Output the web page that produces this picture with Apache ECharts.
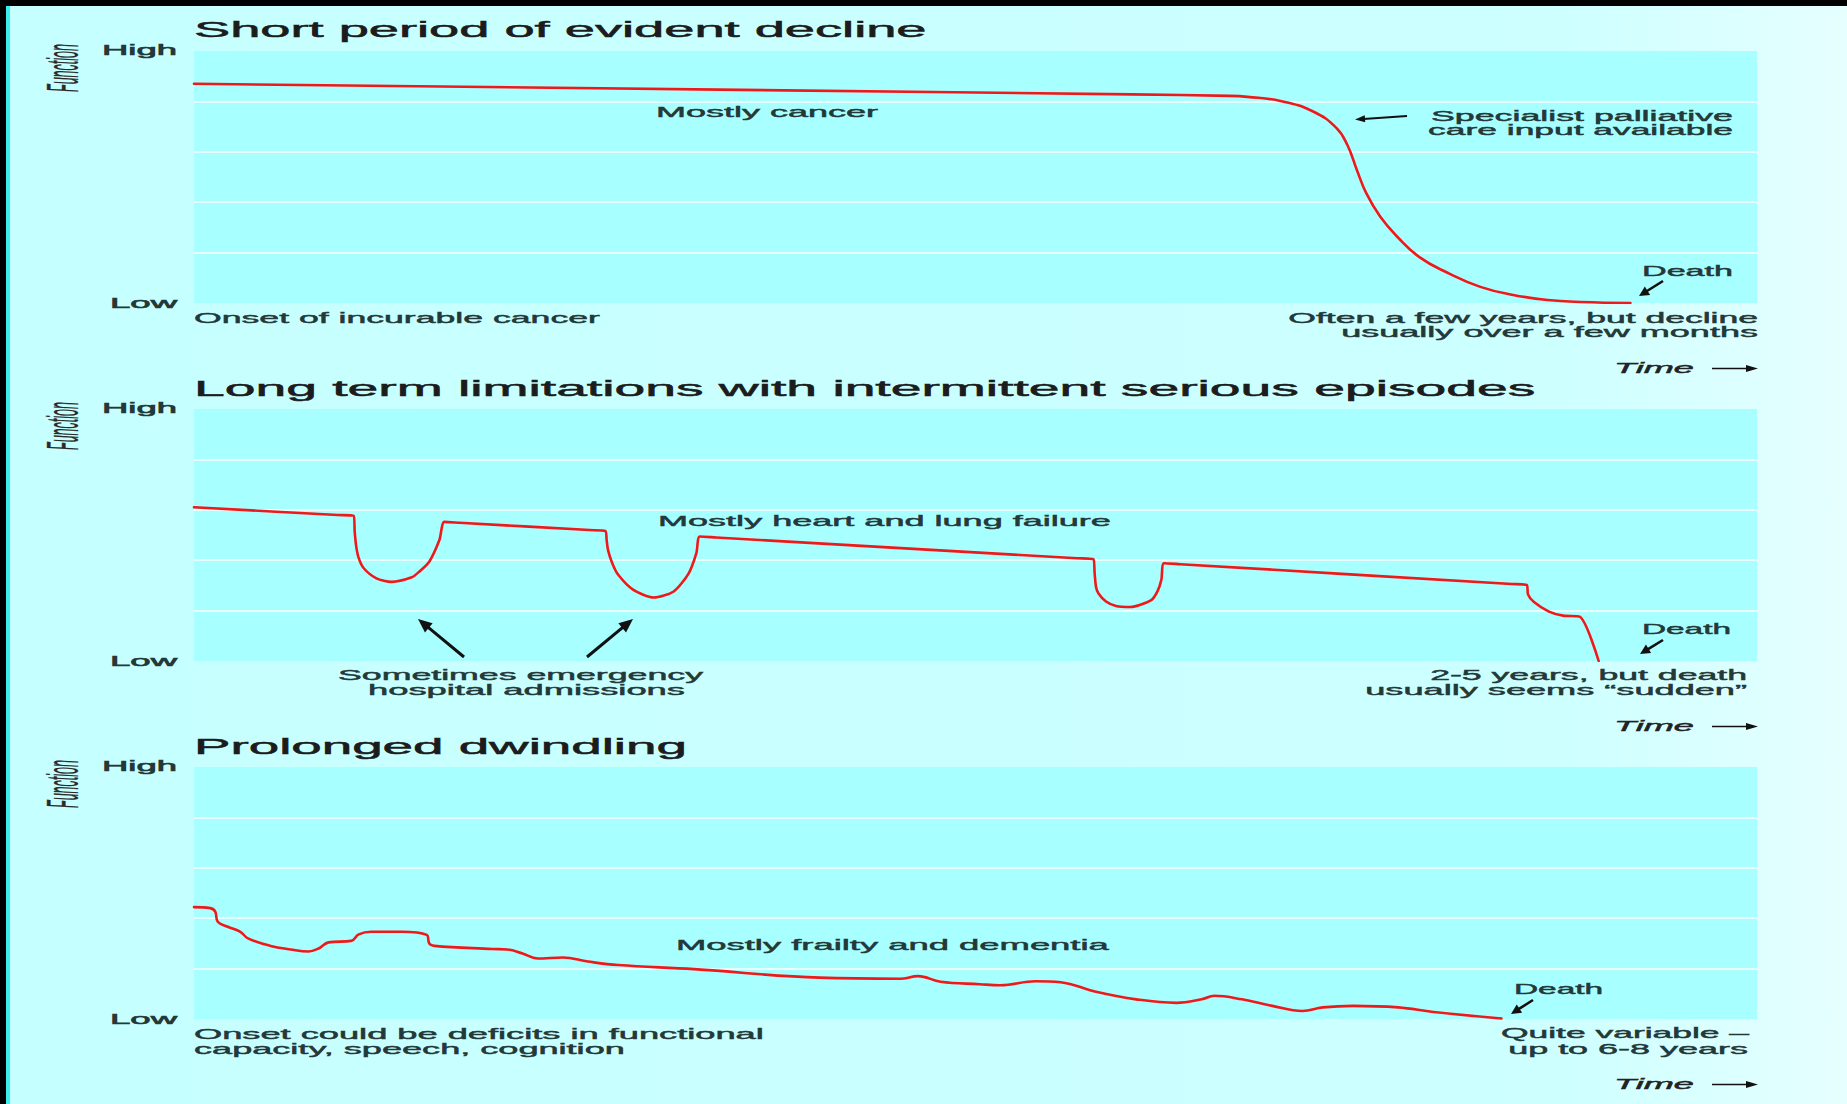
<!DOCTYPE html>
<html><head><meta charset="utf-8">
<script src="https://cdn.jsdelivr.net/npm/echarts@6/dist/echarts.min.js"></script>
<style>
html,body{margin:0;padding:0;width:1847px;height:1104px;overflow:hidden;background:#000;}
#bg{position:absolute;left:6px;top:6px;right:0;bottom:0;background:linear-gradient(to right,#c6ffff 0%,#cdffff 84%,#e6ffff 100%);border-left:4px solid #3aeeee;}
#chart{position:absolute;left:0;top:0;width:1847px;height:1104px;}
</style></head><body><div id="bg"></div><div id="chart"></div>
<script>
// ---------- data ----------
const yTickLabels = ['Low', 'High'];
const panelTitles = [
  'Short period of evident decline',
  'Long term limitations with intermittent serious episodes',
  'Prolonged dwindling'
];
const cancerX = [0, 60.0, 66.3, 67.4, 69.5, 71.6, 73.1, 73.8, 74.4, 75.0, 75.9, 77.0, 78.4, 80.2, 82.3, 84.4, 86.6, 88.7, 91.9];
const cancerY = [4.35, 4.14, 4.11, 4.09, 4.01, 3.80, 3.47, 3.13, 2.64, 2.18, 1.71, 1.31, 0.91, 0.60, 0.32, 0.16, 0.06, 0.02, 0.0];

const organX = [0, 9.2, 10.22, 10.28, 10.38, 10.54, 10.86, 11.67, 12.64, 13.93, 14.40, 15.05, 15.70, 16.02,
  17.0, 25.3, 26.32, 26.40, 26.49, 26.76, 27.14, 28.11, 29.40, 30.69, 31.65, 32.14, 32.36,
  33.4, 56.5, 57.54, 57.62, 57.71, 57.87, 58.35, 58.99, 59.90, 61.25, 61.64, 61.89, 62.06,
  63.1, 84.3, 85.27, 85.35, 85.73, 86.69, 87.6, 88.65, 89.87];
const organY = [3.05, 2.897, 2.88, 2.57, 2.27, 2.04, 1.84, 1.64, 1.57, 1.66, 1.77, 1.97, 2.40, 2.76,
  2.743, 2.598, 2.58, 2.40, 2.20, 1.94, 1.71, 1.41, 1.26, 1.38, 1.74, 2.14, 2.47,
  2.451, 2.039, 2.02, 1.75, 1.47, 1.34, 1.18, 1.09, 1.07, 1.21, 1.38, 1.61, 1.94,
  1.921, 1.528, 1.51, 1.32, 1.17, 0.98, 0.90, 0.88, 0.0];

const frailX = [0, 1.04, 1.36, 1.52, 2.16, 2.97, 3.45, 4.90, 6.19, 7.32, 7.97, 8.61, 10.06, 10.54, 11.35, 13.28,
  14.89, 15.05, 15.37, 19.09, 20.05, 21.02, 21.98, 23.60, 25.21, 27.14, 31.98, 40.03, 45.19, 46.32, 47.77,
  50.28, 51.58, 53.84, 55.45, 57.71, 60.28, 62.86, 64.47, 65.28, 67.05, 68.99, 70.92, 72.21, 74.15, 77.04, 79.30, 83.65];
const frailY = [2.22, 2.20, 2.13, 1.93, 1.83, 1.73, 1.60, 1.45, 1.38, 1.34, 1.40, 1.52, 1.55, 1.68, 1.73, 1.73,
  1.67, 1.50, 1.45, 1.39, 1.38, 1.30, 1.20, 1.22, 1.14, 1.07, 0.99, 0.82, 0.80, 0.85, 0.74,
  0.69, 0.67, 0.75, 0.73, 0.54, 0.39, 0.32, 0.39, 0.46, 0.39, 0.26, 0.16, 0.23, 0.26, 0.23, 0.14, 0.01];

// ---------- layout ----------
const FONT = "'Liberation Sans', Arial, sans-serif";
const PLOT_LEFT = 194, PLOT_W = 1563, PLOT_H = 252, PANEL_STEP = 358, PLOT_TOP0 = 51;
const LINE_COLOR = '#f01818';
const TEXT_COLOR = '#233838';
const SMOOTH = [0.45, 0.25, 0.4];

const chart = echarts.init(document.getElementById('chart'), null, {renderer: 'svg'});

const zip = (xs, ys) => xs.map((x, i) => [x, ys[i]]);
const seriesData = [zip(cancerX, cancerY), zip(organX, organY), zip(frailX, frailY)];

const option = {
  animation: false,
  backgroundColor: 'transparent',
  grid: [0, 1, 2].map(i => ({
    left: PLOT_LEFT, width: PLOT_W, top: PLOT_TOP0 + PANEL_STEP * i, height: PLOT_H,
    show: true, backgroundColor: '#a8ffff', borderWidth: 0
  })),
  xAxis: [0, 1, 2].map(i => ({type: 'value', gridIndex: i, min: 0, max: 100, show: false})),
  yAxis: [0, 1, 2].map(i => ({
    type: 'value', gridIndex: i, min: 0, max: 5, interval: 1,
    axisLine: {show: false}, axisTick: {show: false}, axisLabel: {show: false},
    splitLine: {show: true, showMinLine: false, showMaxLine: false, lineStyle: {color: '#ffffff', width: 1.6}}
  })),
  series: seriesData.map((d, i) => ({
    type: 'line', xAxisIndex: i, yAxisIndex: i, data: d, showSymbol: false,
    smooth: SMOOTH[i],
    lineStyle: {color: LINE_COLOR, width: 2.6, join: 'round', cap: 'round'},
    silent: true
  }))
};
chart.setOption(option);

// ---------- annotations ----------
const ctx = document.createElement('canvas').getContext('2d');
function measure(str, size, st, wt, fam) {
  ctx.font = `${st} ${wt} ${size}px ${fam}`;
  return ctx.measureText(str).width;
}
function txt(str, x, y, o) {
  o = o || {};
  const size = o.size || 15, st = o.style || 'normal', wt = o.weight || 'normal', fam = o.family || FONT;
  const w = measure(str, size, st, wt, fam);
  const sx = o.width ? o.width / w : 1;
  const al = o.align || 'left';
  const col = o.color || TEXT_COLOR;
  return {
    type: 'text', x: x, y: y, scaleX: sx, rotation: o.rotation || 0, silent: true, z: 100,
    style: {
      text: str, x: 0, y: 0, font: `${st} ${wt} ${size}px ${fam}`,
      fontSize: size, fontFamily: fam, fontStyle: st, fontWeight: wt,
      fill: col, stroke: o.bold === 0 ? null : col, lineWidth: o.bold === undefined ? 0.45 : o.bold,
      textAlign: al, align: al,
      textVerticalAlign: 'middle', verticalAlign: 'middle'
    }
  };
}
function arrow(x1, y1, x2, y2, w, hl, hw) {
  const dx = x2 - x1, dy = y2 - y1, L = Math.hypot(dx, dy), ux = dx / L, uy = dy / L;
  const bx = x2 - ux * hl, by = y2 - uy * hl, px = -uy, py = ux;
  return [
    {type: 'line', silent: true, z: 100, shape: {x1: x1, y1: y1, x2: bx + ux * 1.5, y2: by + uy * 1.5},
      style: {stroke: '#111', lineWidth: w}},
    {type: 'polygon', silent: true, z: 100,
      shape: {points: [[x2, y2], [bx + px * hw, by + py * hw], [bx - px * hw, by - py * hw]]},
      style: {fill: '#111'}}
  ];
}

const g = [];
const titleW = [733, 1342, 493];
for (let i = 0; i < 3; i++) {
  const off = PANEL_STEP * i;
  g.push(txt(panelTitles[i], 194, 30 + off, {size: 22, width: titleW[i], color: '#1c1c1c', bold: 0.5}));
  const pHigh = chart.convertToPixel({gridIndex: i}, [0, 5]);
  const pLow = chart.convertToPixel({gridIndex: i}, [0, 0]);
  g.push(txt(yTickLabels[1], 177, pHigh[1] - 1, {size: 14.5, width: 75, align: 'right', bold: 0.6}));
  g.push(txt(yTickLabels[0], 177, pLow[1], {size: 14.5, width: 67, align: 'right', bold: 0.6}));
  g.push(txt('Function', 63, 68 + off, {size: 44, style: 'italic', width: 48, align: 'center', rotation: Math.PI / 2, color: '#2a2a2a', bold: 0.3}));
  // Time arrow
  g.push(txt('Time', 1614, 368 + off, {size: 15, style: 'italic', width: 80, color: '#222'}));
  g.push(...arrow(1712, 368.5 + off, 1758, 368.5 + off, 1.6, 12, 3.5));
}

// panel 1
g.push(txt('Mostly cancer', 767, 112, {width: 222, align: 'center'}));
g.push(txt('Specialist palliative', 1733, 116, {width: 302, align: 'right'}));
g.push(txt('care input available', 1733, 130, {width: 305, align: 'right'}));
g.push(...arrow(1407, 116, 1355, 119.5, 2, 10, 3.5));
g.push(txt('Death', 1733, 271, {width: 91, align: 'right'}));
g.push(...arrow(1663, 281, 1639, 296, 2.6, 10, 5));
g.push(txt('Onset of incurable cancer', 194, 318, {width: 406}));
g.push(txt('Often a few years, but decline', 1758, 318, {width: 470, align: 'right'}));
g.push(txt('usually over a few months', 1758, 332, {width: 417, align: 'right'}));

// panel 2
g.push(txt('Mostly heart and lung failure', 658, 521, {width: 453}));
g.push(...arrow(464, 657, 418, 619, 3, 14, 6));
g.push(...arrow(587, 657, 633, 619, 3, 14, 6));
g.push(txt('Sometimes emergency', 520.5, 675, {width: 365, align: 'center'}));
g.push(txt('hospital admissions', 526.5, 690, {width: 317, align: 'center'}));
g.push(txt('Death', 1731, 629, {width: 89, align: 'right'}));
g.push(...arrow(1663, 640, 1640, 654, 2.6, 10, 5));
g.push(txt('2-5 years, but death', 1747, 675, {width: 317, align: 'right'}));
g.push(txt('usually seems \u201Csudden\u201D', 1747, 690, {width: 382, align: 'right'}));

// panel 3
g.push(txt('Mostly frailty and dementia', 676, 945, {width: 433}));
g.push(txt('Death', 1514, 989, {width: 89}));
g.push(...arrow(1533, 1000, 1511, 1014, 2.6, 10, 5));
g.push(txt('Onset could be deficits in functional', 194, 1034, {width: 570}));
g.push(txt('capacity, speech, cognition', 194, 1049, {width: 431}));
g.push(txt('Quite variable \u2013', 1749, 1033, {width: 248, align: 'right'}));
g.push(txt('up to 6-8 years', 1748, 1049, {width: 240, align: 'right'}));

chart.setOption({graphic: {elements: g}});
</script>
</body></html>
